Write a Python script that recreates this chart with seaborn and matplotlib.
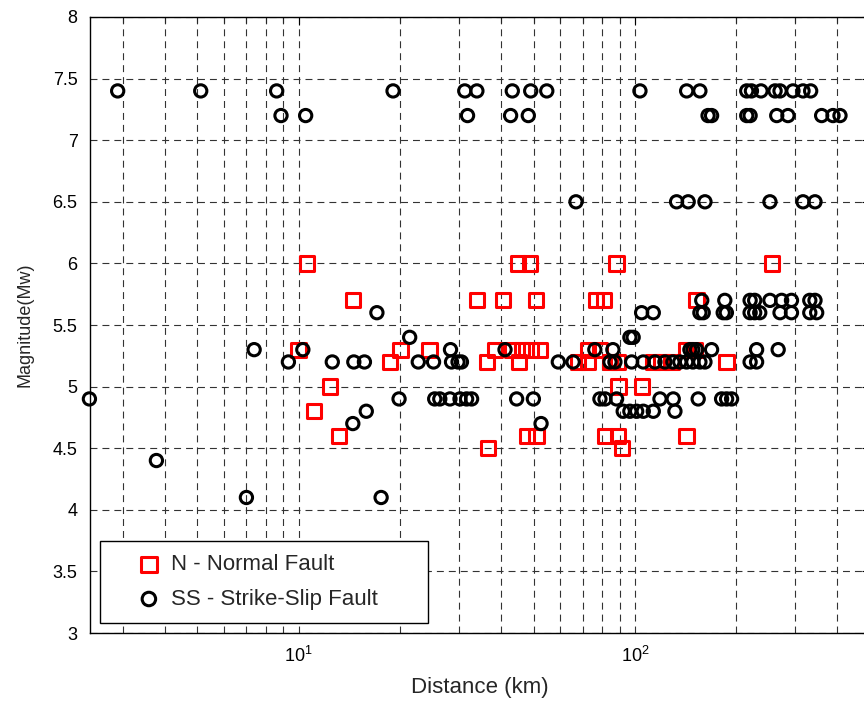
import matplotlib
matplotlib.use("Agg")
import matplotlib.pyplot as plt
import seaborn as sns
import pandas as pd
from matplotlib.ticker import FixedLocator, FormatStrFormatter

# ---- data: N - Normal Fault (red squares) ----
dist_N = [10.6, 44.9, 48.7, 88.2, 255,
          14.5, 33.9, 40.6, 50.7, 76.6, 80.9, 152.5,
          10.0, 20.1, 24.5, 38.4, 43.1, 46.1, 49.0, 52.1, 72.7, 78.7, 141.6, 151,
          18.7, 36.3, 45.2, 67.8, 72.6, 84.3, 89.2, 113.4, 120, 128.5, 187.3,
          12.4, 89.4, 104.7,
          11.1,
          13.2, 47.7, 51.0, 81.5, 89.2, 142.4,
          36.6, 91.5]
mag_N = [6.0, 6.0, 6.0, 6.0, 6.0,
         5.7, 5.7, 5.7, 5.7, 5.7, 5.7, 5.7,
         5.3, 5.3, 5.3, 5.3, 5.3, 5.3, 5.3, 5.3, 5.3, 5.3, 5.3, 5.3,
         5.2, 5.2, 5.2, 5.2, 5.2, 5.2, 5.2, 5.2, 5.2, 5.2, 5.2,
         5.0, 5.0, 5.0,
         4.8,
         4.6, 4.6, 4.6, 4.6, 4.6, 4.6,
         4.5, 4.5]

# ---- data: SS - Strike-Slip Fault (black circles) ----
dist_SS = [2.90, 5.12, 8.61, 19.1, 31.2, 33.9, 43.2, 49.0, 54.7, 103.5, 142.5, 156,
           215, 222, 237, 261, 270, 295, 316, 333,
           8.87, 10.5, 31.8, 42.7, 48.2, 165, 169, 215, 220, 264, 285, 359, 388, 407,
           66.8, 133, 144, 161.5, 252, 316, 343,
           158, 185, 220, 227, 252, 273, 292, 331, 343,
           17.1, 104.7, 113.4, 156, 159.6, 183, 187, 220, 227, 235, 270, 292, 331, 347,
           21.4, 96.6, 98.8,
           7.38, 10.3, 28.3, 41.1, 76.0, 86.0, 145.7, 148.7, 152.5, 169, 230, 266.6,
           9.33, 12.6, 14.6, 15.7, 22.7, 25.2, 28.5, 29.8, 30.5, 59.2, 65.5, 84.3, 87.2,
           97.8, 105.9, 114.7, 122.8, 129.7, 136, 142.4, 148.7, 156, 161.5, 220, 230,
           2.39, 19.9, 25.4, 26.3, 28.2, 30.2, 31.6, 32.7, 44.5, 49.9, 78.7, 81.5, 88.2,
           118.7, 130, 154.2, 181, 187.3, 193.8,
           15.9, 92.3, 96.6, 101.2, 105.9, 113.4, 131.5,
           14.5, 52.6,
           3.78,
           7.0, 17.6]
mag_SS = [7.4, 7.4, 7.4, 7.4, 7.4, 7.4, 7.4, 7.4, 7.4, 7.4, 7.4, 7.4,
          7.4, 7.4, 7.4, 7.4, 7.4, 7.4, 7.4, 7.4,
          7.2, 7.2, 7.2, 7.2, 7.2, 7.2, 7.2, 7.2, 7.2, 7.2, 7.2, 7.2, 7.2, 7.2,
          6.5, 6.5, 6.5, 6.5, 6.5, 6.5, 6.5,
          5.7, 5.7, 5.7, 5.7, 5.7, 5.7, 5.7, 5.7, 5.7,
          5.6, 5.6, 5.6, 5.6, 5.6, 5.6, 5.6, 5.6, 5.6, 5.6, 5.6, 5.6, 5.6, 5.6,
          5.4, 5.4, 5.4,
          5.3, 5.3, 5.3, 5.3, 5.3, 5.3, 5.3, 5.3, 5.3, 5.3, 5.3, 5.3,
          5.2, 5.2, 5.2, 5.2, 5.2, 5.2, 5.2, 5.2, 5.2, 5.2, 5.2, 5.2, 5.2,
          5.2, 5.2, 5.2, 5.2, 5.2, 5.2, 5.2, 5.2, 5.2, 5.2, 5.2, 5.2,
          4.9, 4.9, 4.9, 4.9, 4.9, 4.9, 4.9, 4.9, 4.9, 4.9, 4.9, 4.9, 4.9,
          4.9, 4.9, 4.9, 4.9, 4.9, 4.9,
          4.8, 4.8, 4.8, 4.8, 4.8, 4.8, 4.8,
          4.7, 4.7,
          4.4,
          4.1, 4.1]

labels = ["N - Normal Fault", "SS - Strike-Slip Fault"]
y_ticks = [3, 3.5, 4, 4.5, 5, 5.5, 6, 6.5, 7, 7.5, 8]

df_N = pd.DataFrame({"Distance": dist_N, "Magnitude": mag_N})
df_SS = pd.DataFrame({"Distance": dist_SS, "Magnitude": mag_SS})

sns.set_style("white")
plt.rcParams["font.family"] = ["Liberation Sans", "DejaVu Sans"]
plt.rcParams["mathtext.fontset"] = "custom"
plt.rcParams["mathtext.rm"] = "Liberation Sans"
plt.rcParams["mathtext.it"] = "Liberation Sans"
plt.rcParams["lines.scale_dashes"] = False

fig = plt.figure(figsize=(8.64, 7.05), dpi=100)
ax = fig.add_axes([0.1042, 0.1021, 0.9028, 0.8738])

sns.scatterplot(data=df_N, x="Distance", y="Magnitude", ax=ax, marker="s", s=105,
                facecolors="none", edgecolors="#ff0000", linewidth=2.2,
                label=labels[0], legend=False, zorder=3, clip_on=False)
sns.scatterplot(data=df_SS, x="Distance", y="Magnitude", ax=ax, marker="o", s=78,
                facecolors="none", edgecolors="black", linewidth=2.2,
                label=labels[1], legend=False, zorder=3, clip_on=False)

ax.set_xscale("log")
ax.set_xlim(2.4, 500)
ax.set_ylim(3, 8)
ax.yaxis.set_major_locator(FixedLocator(y_ticks))
ax.yaxis.set_major_formatter(FormatStrFormatter("%g"))

ax.grid(True, which="major", axis="both", color="0.2", linestyle=(0, (5, 3.6)), linewidth=0.8)
ax.grid(True, which="minor", axis="x", color="0.2", linestyle=(0, (5, 3.6)), linewidth=0.8)
ax.set_axisbelow(True)

for sp in ax.spines.values():
    sp.set_color("black")
    sp.set_linewidth(1.0)

ax.tick_params(axis="both", which="major", direction="in", length=6, width=0.8,
               labelsize=13, top=True, right=True, colors="black")
ax.tick_params(axis="x", which="minor", direction="in", length=4, width=0.8, top=True)
ax.tick_params(axis="x", which="major", pad=9)
ax.tick_params(axis="y", which="major", pad=9)

ax.set_xlabel("Distance (km)", fontsize=16, labelpad=8)
ax.set_ylabel("Magnitude(Mw)", fontsize=13, labelpad=14)

leg = ax.legend(loc="lower left", bbox_to_anchor=(0.0128, 0.016, 0.4205, 0.127),
                mode="expand", borderaxespad=0,
                fontsize=16, frameon=True, fancybox=False, edgecolor="black",
                framealpha=1, handletextpad=-0.6, borderpad=0.6, labelspacing=0.6,
                handlelength=3.2, markerscale=1.1)
leg.get_frame().set_linewidth(1.0)

fig.savefig("out.png", dpi=100)
